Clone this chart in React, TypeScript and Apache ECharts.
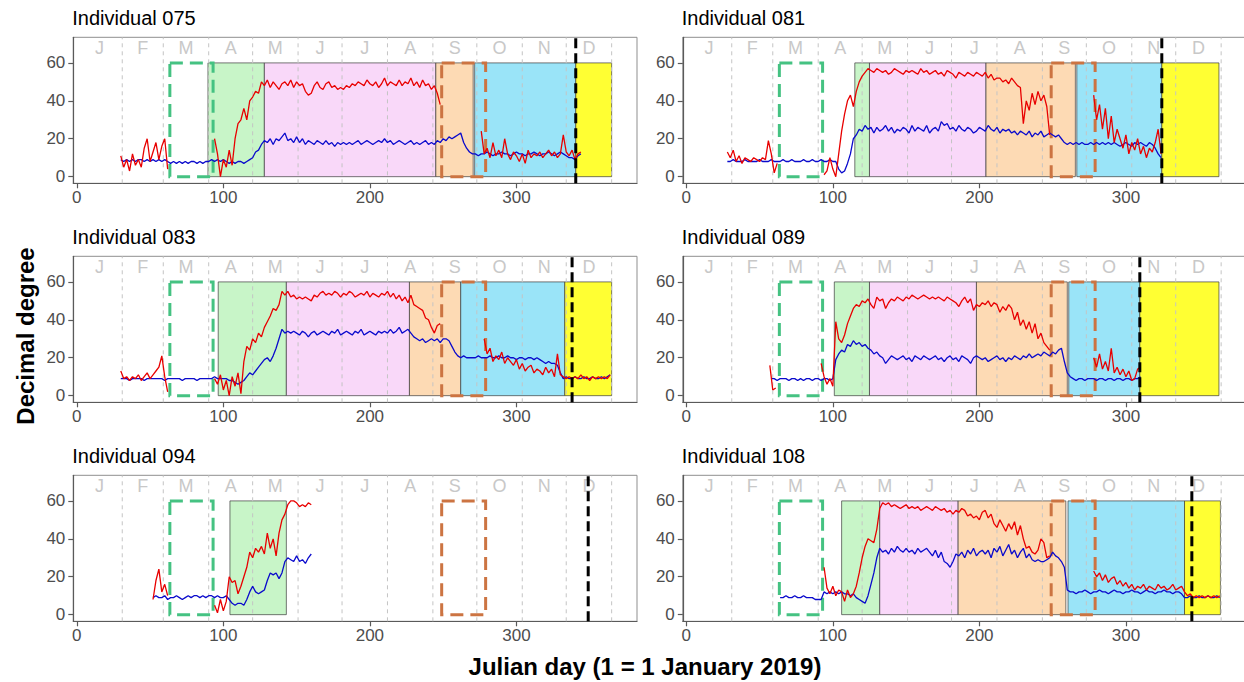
import React, { useEffect, useRef } from "react";
import * as echarts from "echarts";

// ---------- axes ----------
const X_MIN = -2.4;
const X_MAX = 382.3;
const Y_MIN = -3.5;
const Y_MAX = 73.5;
const X_TICKS = [0, 100, 200, 300];
const Y_TICKS = [0, 20, 40, 60];
const STEP = 2; // days between samples

// ---------- calendar (2019) ----------
const MONTH_ENDS = [31, 59, 90, 120, 151, 181, 212, 243, 273, 304, 334, 365];
const MONTH_LETTERS = ["J", "F", "M", "A", "M", "J", "J", "A", "S", "O", "N", "D"];
const MONTH_LETTER_Y = 68;

// ---------- reference windows ----------
const BOX_TOP = 60;
const SPRING_WINDOW: [number, number] = [63.5, 93];
const AUTUMN_WINDOW: [number, number] = [249, 279];

type Segment = { start: number; values: number[] };
type Phase = [number, number, string];

const PHASE_COLORS: Record<string, string> = {
  green: "#c8f5c8",
  pink: "#f9d8f9",
  peach: "#fddab4",
  cyan: "#9ae4f8",
  yellow: "#ffff33",
};

// ---------- Individual 075 ----------
const red075: Segment[] = [
  { start: 30, values: [11, 5, 9, 3, 12, 6, 9, 5, 15, 20, 8, 13, 18, 9, 16, 20, 4] },
  {
    start: 94,
    values: [
      20, 12, 0, 9, 5, 14, 6, 20, 28, 30,
      36, 30, 40, 42, 45, 44, 50, 48, 51, 47,
      50, 48, 46, 49, 50, 48, 51, 47, 50, 48,
      49, 45, 43, 44, 48, 50, 47, 46, 49, 50,
      47, 48, 46, 47, 46, 48, 47, 49, 48, 50,
      49, 48, 51, 49, 48, 50, 47, 49, 52, 48,
      50, 49, 48, 51, 48, 50, 49, 52, 48, 50,
      47, 51, 48, 49, 46, 48, 44, 38,
    ],
  },
  {
    start: 276,
    values: [
      24, 12, 15, 10, 18, 11, 14, 10, 20, 12,
      9, 13, 11, 8, 12, 7, 14, 10, 12, 11,
      13, 10, 12, 14, 11, 13, 10, 12, 22, 13,
      11, 14, 9, 12, 13,
    ],
  },
];
const blue075: Segment[] = [
  {
    start: 30,
    values: [
      9, 8, 9, 8, 9, 8, 9, 9, 8, 9,
      8, 9, 8, 9, 8, 9, 8, 7, 8, 7,
      8, 7, 8, 7, 8, 8, 7, 8, 7, 8,
      8, 9, 8, 9, 8, 9, 8, 7, 8, 7,
      8, 8, 7, 8, 9, 10, 13, 14, 17, 19,
      18, 20, 17, 20, 19, 21, 23, 19, 20, 18,
      21, 18, 20, 17, 19, 18, 17, 19, 18, 17,
      19, 17, 18, 16, 18, 17, 18, 17, 18, 17,
      18, 19, 17, 18, 19, 18, 17, 18, 19, 18,
      20, 18, 19, 17, 18, 19, 18, 17, 18, 19,
      17, 18, 17, 18, 19, 17, 18, 17, 19, 18,
      20, 19, 21, 20, 21, 22, 23, 18, 15, 13,
      12, 12, 11, 12, 12, 13, 12, 11, 12, 12,
      13, 12, 12, 11, 12, 13, 12, 12, 11, 12,
      12, 13, 12, 11, 12, 12, 13, 12, 11, 12,
      13, 12, 11, 10, 10, 9, 11, 12,
    ],
  },
];
const phases075: Phase[] = [
  [89.5, 128, "green"],
  [128, 245, "pink"],
  [245, 270.5, "peach"],
  [271.5, 340.5, "cyan"],
  [340.5, 365, "yellow"],
];

// ---------- Individual 081 ----------
const red081: Segment[] = [
  { start: 28, values: [13, 10, 14, 8, 11, 7, 10, 9, 8, 10, 9, 8, 10, 9, 19, 12, 2, 7] },
  {
    start: 94,
    values: [
      1, 3, 10, 4, 0, 12, 24, 33, 40, 43,
      37, 45, 50, 53, 55, 57, 56, 55, 57, 56,
      55, 56, 54, 55, 57, 56, 55, 54, 56, 55,
      56, 55, 54, 57, 55, 56, 54, 55, 56, 54,
      55, 53, 56, 55, 54, 52, 55, 54, 53, 55,
      54, 53, 55, 54, 53, 55, 52, 54, 51, 52,
      52, 50, 51, 49, 52, 50, 48, 47, 28, 40,
      35, 44, 38, 45, 40, 43, 37, 22,
    ],
  },
  {
    start: 278,
    values: [
      43, 30, 38, 25, 36, 20, 32, 18, 25, 20,
      15, 22, 12, 18, 14, 20, 12, 16, 10, 15,
      13, 18, 25, 12,
    ],
  },
];
const blue081: Segment[] = [
  {
    start: 28,
    values: [
      8, 8, 9, 8, 8, 8, 9, 8, 8, 8,
      8, 9, 8, 8, 8, 9, 8, 8, 8, 9,
      8, 8, 9, 8, 8, 8, 9, 8, 8, 9,
      8, 8, 9, 8, 8, 9, 8, 8, 4, 2,
      3, 7, 12, 20, 22, 25, 24, 27, 25, 26,
      23, 26, 24, 25, 27, 24, 26, 23, 25, 24,
      26, 25, 23, 27, 24, 26, 25, 24, 27, 23,
      25, 26, 24, 29, 27, 28, 25, 26, 24, 27,
      25, 24, 26, 25, 23, 24, 26, 25, 24, 27,
      25, 24, 26, 23, 25, 24, 25, 23, 24, 22,
      24, 23, 22, 24, 21, 23, 22, 24, 21, 22,
      23, 22, 21, 22, 20, 18, 17, 18, 17, 18,
      17, 18, 17, 17, 18, 17, 18, 17, 18, 17,
      18, 17, 18, 17, 16, 17, 18, 17, 16, 18,
      17, 18, 17, 16, 18, 17, 15, 12, 10,
    ],
  },
];
const phases081: Phase[] = [
  [115, 125, "green"],
  [125, 204.5, "pink"],
  [204.5, 265.5, "peach"],
  [266.5, 324.5, "cyan"],
  [324.5, 363.5, "yellow"],
];

// ---------- Individual 083 ----------
const red083: Segment[] = [
  { start: 30, values: [13, 9, 10, 8, 10, 9, 11, 8, 10, 12, 9, 11, 13, 15, 21, 10, 2] },
  {
    start: 94,
    values: [
      9, 6, 11, 3, 8, 0, 10, 5, 12, 1,
      18, 26, 24, 30, 28, 33, 31, 36, 39, 42,
      46, 45, 48, 55, 53, 55, 52, 53, 51, 52,
      51, 52, 51, 50, 53, 52, 54, 55, 53, 54,
      53, 55, 54, 52, 54, 53, 55, 54, 52, 53,
      54, 53, 55, 52, 54, 53, 52, 54, 53, 55,
      52, 54, 51, 53, 50, 52, 49, 53, 48, 47,
      46, 45, 41, 40, 36, 33, 37, 38,
    ],
  },
  {
    start: 278,
    values: [
      30, 22, 25, 18, 21, 19, 23, 17, 20, 18,
      16, 19, 14, 17, 13, 15, 16, 12, 14, 13,
      11, 15, 12, 14, 10, 22, 11, 10, 9, 10,
      9, 10, 9, 11, 9, 10, 8, 10, 9, 10,
      9, 10, 9, 11,
    ],
  },
];
const blue083: Segment[] = [
  {
    start: 30,
    values: [
      9, 9, 9, 8, 9, 9, 9, 9, 8, 9,
      9, 9, 9, 9, 9, 8, 9, 9, 9, 9,
      9, 8, 9, 9, 9, 9, 8, 9, 9, 9,
      9, 9, 10, 9, 9, 9, 9, 8, 8, 7,
      6, 7, 8, 10, 12, 11, 13, 15, 17, 19,
      20, 18, 21, 25, 30, 35, 33, 34, 33, 34,
      33, 32, 34, 33, 31, 33, 34, 32, 33, 34,
      33, 32, 34, 33, 35, 32, 33, 34, 33, 32,
      34, 33, 35, 32, 33, 34, 33, 32, 34, 33,
      34, 33, 35, 33, 34, 36, 33, 34, 35, 33,
      31, 30, 29, 30, 28, 29, 30, 29, 30, 28,
      30, 30, 29, 26, 23, 21, 20, 21, 20, 20,
      20, 20, 21, 20, 20, 20, 21, 20, 20, 21,
      20, 20, 21, 20, 20, 19, 20, 20, 19, 20,
      20, 19, 20, 19, 18, 17, 18, 17, 17, 16,
      12, 9, 10, 9, 9, 10, 9, 9, 10, 9,
      9, 10, 9, 9, 10, 9, 10, 11,
    ],
  },
];
const phases083: Phase[] = [
  [96.5, 143, "green"],
  [143, 227, "pink"],
  [227, 262, "peach"],
  [262, 333, "cyan"],
  [333, 365, "yellow"],
];

// ---------- Individual 089 ----------
const red089: Segment[] = [
  { start: 57, values: [16, 3, 4] },
  {
    start: 92,
    values: [
      17, 10, 6, 9, 5, 39, 30, 28, 32, 38,
      42, 46, 48, 47, 50, 49, 51, 48, 46, 52,
      50, 51, 46, 49, 51, 50, 52, 51, 50, 52,
      51, 53, 52, 51, 52, 53, 52, 51, 52, 51,
      52, 51, 50, 52, 51, 50, 49, 47, 50, 52,
      49, 51, 45, 48, 47, 49, 48, 50, 47, 49,
      48, 44, 47, 45, 48, 46, 40, 44, 37, 40,
      35, 39, 33, 38, 30, 33, 28, 26, 24,
    ],
  },
  { start: 278, values: [20, 15, 22, 14, 18, 13, 25, 12, 15, 11, 14, 10, 13, 8, 9, 14, 15] },
];
const blue089: Segment[] = [
  {
    start: 58,
    values: [
      9, 9, 8, 9, 9, 9, 8, 9, 9, 8,
      9, 8, 9, 9, 8, 9, 9, 8, 9, 9,
      8, 9, 19, 22, 24, 23, 27, 26, 29, 27,
      28, 26, 27, 25, 24, 22, 23, 21, 20, 17,
      19, 21, 20, 19, 20, 21, 19, 20, 18, 21,
      20, 19, 21, 20, 19, 20, 21, 19, 20, 18,
      20, 21, 19, 20, 18, 21, 20, 19, 17, 20,
      21, 20, 19, 20, 18, 19, 20, 21, 19, 20,
      18, 20, 19, 21, 20, 19, 21, 20, 22, 20,
      21, 22, 21, 23, 22, 21, 23, 22, 24, 25,
      18, 12, 10, 9, 8, 9, 9, 8, 9, 9,
      9, 8, 9, 9, 8, 9, 9, 8, 9, 9,
      8, 9, 9, 8, 9, 9, 10,
    ],
  },
];
const phases089: Phase[] = [
  [101, 125, "green"],
  [125, 198, "pink"],
  [198, 260, "peach"],
  [261, 309.5, "cyan"],
  [309.5, 363.5, "yellow"],
];

// ---------- Individual 094 ----------
const red094: Segment[] = [
  { start: 52, values: [8, 18, 24, 12, 16, 10] },
  {
    start: 94,
    values: [
      5, 1, 8, 2, 7, 20, 17, 18, 11, 15,
      20, 25, 33, 30, 35, 33, 36, 32, 43, 35,
      40, 31, 43, 50, 53, 58, 60, 60, 59, 57,
      58, 57, 59, 58,
    ],
  },
];
const blue094: Segment[] = [
  {
    start: 52,
    values: [
      9, 10, 9, 9, 10, 8, 9, 9, 10, 9,
      8, 9, 10, 9, 10, 10, 9, 10, 9, 10,
      10, 9, 10, 9, 9, 10, 8, 6, 5, 6,
      6, 5, 8, 12, 15, 12, 11, 12, 13, 18,
      22, 21, 22, 19, 22, 28, 30, 29, 28, 31,
      28, 29, 27, 30, 32,
    ],
  },
];
const phases094: Phase[] = [[104.5, 143, "green"]];

// ---------- Individual 108 ----------
const red108: Segment[] = [
  {
    start: 94,
    values: [
      25, 14, 11, 15, 10, 13, 12, 7, 13, 9,
      11, 15, 22, 30, 36, 40, 39, 38, 45, 56,
      59, 58, 59, 57, 58, 57, 56, 57, 58, 56,
      57, 56, 57, 55, 56, 57, 56, 55, 57, 56,
      55, 56, 54, 55, 53, 55, 54, 56, 55, 52,
      53, 51, 52, 50, 54, 55, 51, 53, 48, 46,
      50, 47, 44, 48, 45, 49, 42, 47, 40, 35,
      36, 33, 32, 34, 40, 38, 30, 31,
    ],
  },
  {
    start: 278,
    values: [
      23, 20, 22, 18, 21, 17, 19, 20, 16, 18,
      15, 17, 14, 16, 13, 15, 14, 16, 13, 15,
      14, 13, 16, 14, 15, 13, 14, 16, 13, 14,
      15, 12, 10, 11, 9, 10, 9, 10, 9, 10,
      9, 10, 9, 10,
    ],
  },
];
const blue108: Segment[] = [
  {
    start: 64,
    values: [
      9, 9, 10, 9, 9, 10, 9, 9, 10, 9,
      9, 9, 8, 8, 8, 12, 11, 12, 11, 12,
      11, 12, 11, 11, 10, 11, 9, 8, 7, 6,
      10, 16, 22, 30, 35, 33, 34, 32, 35, 33,
      36, 34, 33, 35, 33, 34, 32, 35, 33, 34,
      35, 33, 31, 34, 30, 33, 28, 27, 25, 28,
      32, 31, 33, 30, 34, 32, 35, 31, 33, 34,
      32, 34, 30, 35, 33, 36, 31, 34, 37, 32,
      34, 30, 33, 35, 30, 32, 29, 28, 29, 28,
      28, 29, 30, 33, 31, 30, 28, 25, 13, 12,
      12, 11, 12, 12, 13, 12, 11, 12, 12, 13,
      12, 12, 11, 12, 13, 12, 12, 11, 12, 12,
      13, 12, 12, 11, 12, 13, 12, 12, 11, 12,
      12, 13, 12, 12, 11, 12, 12, 11, 9, 9,
      10, 9, 9, 10, 9, 9, 10, 9, 9, 10, 9,
    ],
  },
];
const phases108: Phase[] = [
  [106, 132, "green"],
  [132, 185.5, "pink"],
  [185.5, 259, "peach"],
  [260.5, 340, "cyan"],
  [340, 364.5, "yellow"],
];

const PANELS = [
  { id: "075", red: red075, blue: blue075, phases: phases075, marker: 340.5 },
  { id: "081", red: red081, blue: blue081, phases: phases081, marker: 324.5 },
  { id: "083", red: red083, blue: blue083, phases: phases083, marker: 338 },
  { id: "089", red: red089, blue: blue089, phases: phases089, marker: 309.5 },
  { id: "094", red: red094, blue: blue094, phases: phases094, marker: 349 },
  { id: "108", red: red108, blue: blue108, phases: phases108, marker: 345 },
];

// ---------- layout ----------
const COL_LEFT = [73.3, 682.8];
const ROW_TOP = [37.3, 256.3, 475.3];
const PANEL_W = 563.7;
const PANEL_H = 146;

const FONT = '"Liberation Sans", Arial, Helvetica, sans-serif';
const RED = "#e80000";
const BLUE = "#0a0acc";

function toPoints(segs: Segment[]): (number | null)[][] {
  const out: (number | null)[][] = [];
  segs.forEach((s, k) => {
    if (k > 0) out.push([s.start - 1, null]);
    s.values.forEach((v, j) => out.push([s.start + j * STEP, v]));
  });
  return out;
}

function buildOption() {
  const grid: any[] = [];
  const xAxis: any[] = [];
  const yAxis: any[] = [];
  const series: any[] = [];
  const title: any[] = [];

  PANELS.forEach((p, i) => {
    const col = i % 2;
    const row = Math.floor(i / 2);
    const left = COL_LEFT[col];
    const top = ROW_TOP[row];

    grid.push({
      left,
      top,
      width: PANEL_W,
      height: PANEL_H,
      show: true,
      borderColor: "#8f8f8f",
      borderWidth: 1,
      backgroundColor: "transparent",
      containLabel: false,
      outerBoundsMode: "none",
    });

    xAxis.push({
      type: "value",
      gridIndex: i,
      min: X_MIN,
      max: X_MAX,
      splitLine: { show: false },
      axisLine: { show: true, onZero: false, lineStyle: { color: "#5a5a5a", width: 1.2 } },
      axisTick: { show: true, length: 5, customValues: X_TICKS, lineStyle: { color: "#5a5a5a", width: 1.2 } },
      axisLabel: { customValues: X_TICKS, color: "#4d4d4d", fontSize: 17, fontFamily: FONT, margin: 6 },
    });

    yAxis.push({
      type: "value",
      gridIndex: i,
      min: Y_MIN,
      max: Y_MAX,
      splitLine: { show: false },
      axisLine: { show: true, onZero: false, lineStyle: { color: "#5a5a5a", width: 1.2 } },
      axisTick: { show: true, length: 5, customValues: Y_TICKS, lineStyle: { color: "#5a5a5a", width: 1.2 } },
      axisLabel: { customValues: Y_TICKS, color: "#4d4d4d", fontSize: 17, fontFamily: FONT, margin: 8 },
    });

    title.push({
      text: `Individual ${p.id}`,
      left: left - 1,
      top: top - 29,
      padding: 0,
      textStyle: { fontSize: 20, fontWeight: "normal", color: "#000", fontFamily: FONT },
    });

    // coloured phase blocks
    series.push({
      type: "custom",
      xAxisIndex: i,
      yAxisIndex: i,
      z: 1,
      silent: true,
      data: p.phases.map((ph) => [ph[0], ph[1], 0, BOX_TOP]),
      encode: { x: [0, 1], y: [2, 3] },
      renderItem: (params: any, api: any) => {
        const a = api.coord([api.value(0), api.value(3)]);
        const b = api.coord([api.value(1), api.value(2)]);
        const key = p.phases[params.dataIndex][2];
        return {
          type: "rect",
          shape: { x: a[0], y: a[1], width: b[0] - a[0], height: b[1] - a[1] },
          style: { fill: PHASE_COLORS[key], stroke: "#3c3c3c", lineWidth: 0.7 },
        };
      },
    });

    // month boundaries
    series.push({
      type: "custom",
      xAxisIndex: i,
      yAxisIndex: i,
      z: 2,
      silent: true,
      data: MONTH_ENDS.map((d) => [d, Y_MIN, Y_MAX]),
      encode: { x: 0, y: [1, 2] },
      renderItem: (params: any, api: any) => {
        const a = api.coord([api.value(0), api.value(1)]);
        const b = api.coord([api.value(0), api.value(2)]);
        return {
          type: "line",
          shape: { x1: a[0], y1: a[1], x2: b[0], y2: b[1] },
          style: { stroke: "#c4c4c4", lineWidth: 1, lineDash: [4, 4] },
        };
      },
    });

    // month letters
    series.push({
      type: "custom",
      xAxisIndex: i,
      yAxisIndex: i,
      z: 2,
      silent: true,
      data: MONTH_LETTERS.map((_, k) => [((k === 0 ? 0 : MONTH_ENDS[k - 1]) + MONTH_ENDS[k]) / 2, MONTH_LETTER_Y]),
      encode: { x: 0, y: 1 },
      renderItem: (params: any, api: any) => {
        const c = api.coord([api.value(0), api.value(1)]);
        return {
          type: "text",
          x: c[0],
          y: c[1],
          style: {
            text: MONTH_LETTERS[params.dataIndex],
            fill: "#c8c8c8",
            font: `18px ${FONT}`,
            align: "center",
            verticalAlign: "middle",
            textAlign: "center",
            textVerticalAlign: "middle",
          },
        };
      },
    });

    // dashed equinox windows
    const windows = [
      { range: SPRING_WINDOW, color: "#45c282" },
      { range: AUTUMN_WINDOW, color: "#cc7442" },
    ];
    series.push({
      type: "custom",
      xAxisIndex: i,
      yAxisIndex: i,
      z: 3,
      silent: true,
      data: windows.map((w) => [w.range[0], w.range[1], 0, BOX_TOP]),
      encode: { x: [0, 1], y: [2, 3] },
      renderItem: (params: any, api: any) => {
        const a = api.coord([api.value(0), api.value(3)]);
        const b = api.coord([api.value(1), api.value(2)]);
        return {
          type: "rect",
          shape: { x: a[0], y: a[1], width: b[0] - a[0], height: b[1] - a[1] },
          style: { fill: "none", stroke: windows[params.dataIndex].color, lineWidth: 3, lineDash: [13, 7] },
        };
      },
    });

    series.push({
      type: "line",
      xAxisIndex: i,
      yAxisIndex: i,
      z: 4,
      data: toPoints(p.blue),
      showSymbol: false,
      symbol: "none",
      connectNulls: false,
      lineStyle: { color: BLUE, width: 1.3 },
      silent: true,
    });
    series.push({
      type: "line",
      xAxisIndex: i,
      yAxisIndex: i,
      z: 5,
      data: toPoints(p.red),
      showSymbol: false,
      symbol: "none",
      connectNulls: false,
      lineStyle: { color: RED, width: 1.3 },
      silent: true,
    });

    // departure marker
    series.push({
      type: "custom",
      xAxisIndex: i,
      yAxisIndex: i,
      z: 6,
      silent: true,
      data: [[p.marker, Y_MIN, Y_MAX]],
      encode: { x: 0, y: [1, 2] },
      renderItem: (params: any, api: any) => {
        const a = api.coord([api.value(0), api.value(1)]);
        const b = api.coord([api.value(0), api.value(2)]);
        return {
          type: "line",
          shape: { x1: a[0], y1: a[1], x2: b[0], y2: b[1] },
          style: { stroke: "#000", lineWidth: 3, lineDash: [10, 5] },
        };
      },
    });
  });

  return {
    animation: false,
    backgroundColor: "#ffffff",
    title,
    grid,
    xAxis,
    yAxis,
    series,
    graphic: [
      {
        type: "text",
        x: 25,
        y: 336,
        rotation: Math.PI / 2,
        style: {
          text: "Decimal degree",
          font: `bold 24px ${FONT}`,
          fill: "#000",
          align: "center",
          verticalAlign: "middle",
          textAlign: "center",
          textVerticalAlign: "middle",
        },
      },
      {
        type: "text",
        x: 645,
        y: 666,
        style: {
          text: "Julian day (1 = 1 January 2019)",
          font: `bold 24px ${FONT}`,
          fill: "#000",
          align: "center",
          verticalAlign: "middle",
          textAlign: "center",
          textVerticalAlign: "middle",
        },
      },
    ],
  };
}

export default function App() {
  const ref = useRef<HTMLDivElement>(null);
  useEffect(() => {
    if (!ref.current) return;
    const chart = echarts.init(ref.current, undefined, { renderer: "svg" });
    chart.setOption(buildOption() as any);
    return () => chart.dispose();
  }, []);
  return (
    <div
      ref={ref}
      style={{ position: "absolute", left: 0, top: 0, width: 1244, height: 682, background: "#fff" }}
    />
  );
}
